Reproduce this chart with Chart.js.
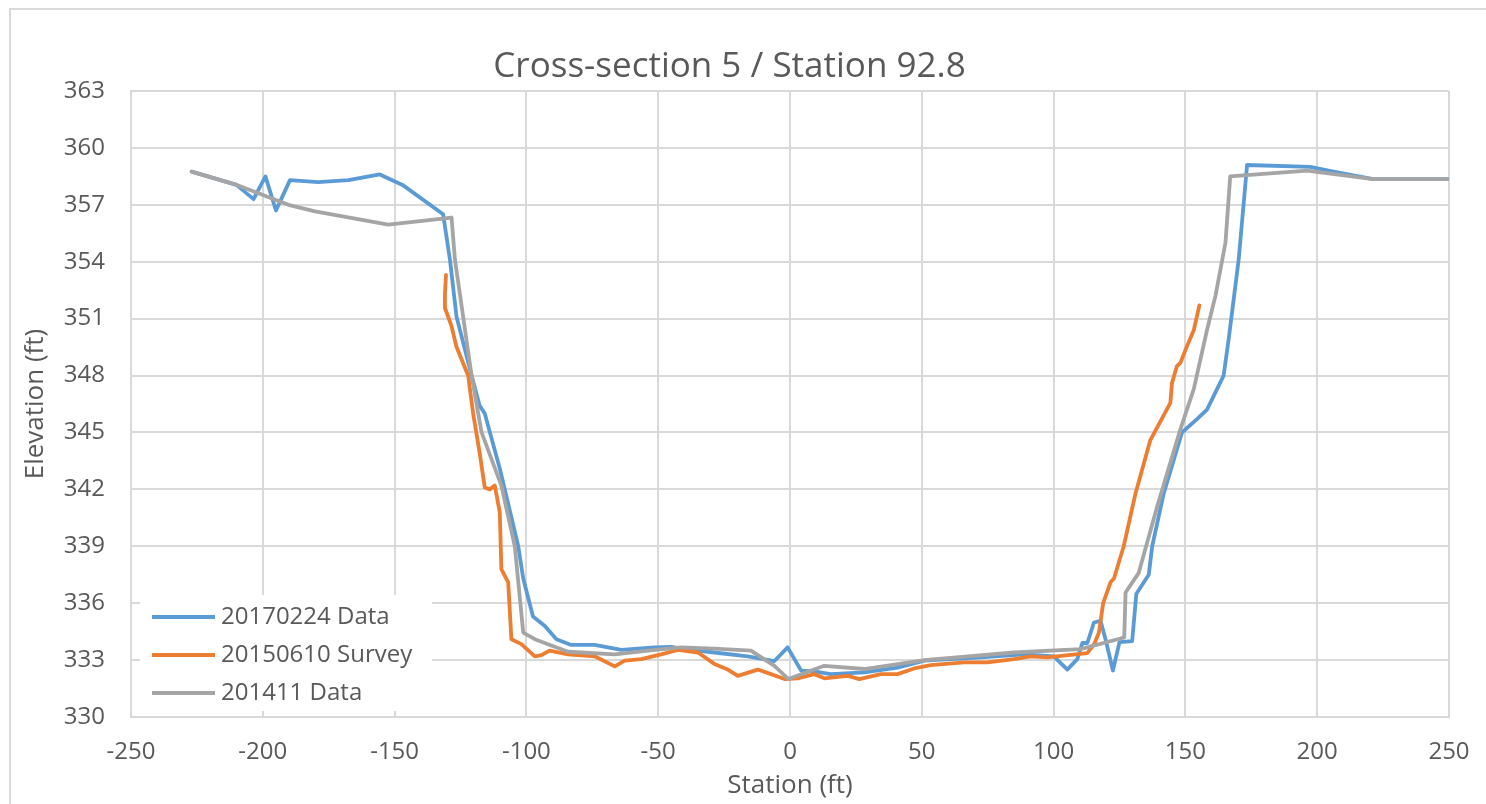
<!DOCTYPE html>
<html>
<head>
<meta charset="utf-8">
<script src="https://cdn.jsdelivr.net/npm/chart.js@4/dist/chart.umd.min.js"></script>
<style>
  html, body { margin: 0; padding: 0; background: #fff; }
  #wrap { position: absolute; left: 0; top: 0; width: 1486px; height: 804px; }
</style>
</head>
<body>
<div id="wrap"><canvas id="chart" width="1486" height="804"></canvas></div>
<script>
// ---- data (station ft, elevation ft) ----
const seriesNames = ["20170224 Data", "20150610 Survey", "201411 Data"];
const seriesColors = ["#5B9BD5", "#ED7D31", "#A5A5A5"];

const xTicks = [-250, -200, -150, -100, -50, 0, 50, 100, 150, 200, 250];
const yTicks = [330, 333, 336, 339, 342, 345, 348, 351, 354, 357, 360, 363];

const data2017X = [-227, -210, -203.5, -199, -195, -189.7, -179, -167.5, -155.6, -147, -131.6, -129, -126.5,
  -120.8, -117.7, -115.8, -110, -103.1, -101.2, -97.5, -93, -88.6, -83, -74.1, -64, -51.4, -45, -41.3, -28.7,
  -16, -5.9, -0.9, 4.2, 9, 15.5, 28.2, 40.8, 51, 72.3, 88.8, 100.1, 105.2, 109, 110.9, 112.8, 115.3, 117.8,
  119.7, 122.5, 125, 129.8, 131.4, 136.1, 137.4, 141.8, 148.7, 154.4, 158.2, 164.5, 166.4, 168.3, 170.2, 173.4,
  197.3, 206.2, 221.3, 250];
const data2017Y = [358.75, 358.05, 357.3, 358.5, 356.7, 358.3, 358.2, 358.3, 358.6, 358.05, 356.5, 354.1, 351.1,
  348.0, 346.4, 346.0, 343.05, 339.0, 337.3, 335.3, 334.8, 334.1, 333.8, 333.8, 333.54, 333.67, 333.7, 333.6, 333.4,
  333.2, 332.95, 333.67, 332.45, 332.4, 332.26, 332.35, 332.6, 332.97, 333.14, 333.3, 333.2, 332.5, 333.05, 333.9,
  333.9, 334.98, 335.07, 334.1, 332.45, 333.95, 334.0, 336.5, 337.5, 339.0, 341.8, 345.0, 345.7, 346.2, 348.0,
  349.9, 352.0, 354.1, 359.1, 359.0, 358.75, 358.35, 358.35];

const data2015X = [-130.5, -130.9, -130.9, -128.4, -126.5, -122.1, -120.2, -117.7, -115.8, -113.9, -112, -110.1,
  -109.5, -106.9, -105.7, -101.9, -96.8, -94.3, -91.2, -84.2, -74.1, -66.5, -62.7, -56.4, -48.9, -42.5, -34.9,
  -28.7, -23.6, -19.8, -12.2, -7.2, -2.1, 2.9, 9.2, 13, 21.9, 26.3, 34.5, 40.8, 47.1, 53.4, 66, 74.9, 85, 91.3,
  97.6, 112.8, 115.6, 117.2, 118.8, 121.6, 122.9, 126.6, 131.1, 136.7, 144.3, 144.9, 146.8, 148.1, 150.6, 153.2,
  155.3];
const data2015Y = [353.3, 352.3, 351.56, 350.6, 349.5, 348.0, 346.0, 343.9, 342.1, 342.0, 342.2, 340.8,
  337.8, 337.1, 334.1, 333.84, 333.2, 333.26, 333.5, 333.3, 333.2, 332.67, 332.97, 333.05, 333.3, 333.54, 333.4,
  332.8, 332.5, 332.17, 332.5, 332.26, 332.0, 332.04, 332.26, 332.04, 332.17, 332.0, 332.26, 332.26, 332.56, 332.74,
  332.88, 332.88, 333.05, 333.2, 333.14, 333.37, 333.9, 334.45, 336.0, 337.1, 337.3, 339.0, 341.8, 344.6, 346.56,
  347.6, 348.5, 348.67, 349.55, 350.4, 351.7];

const data2014X = [-227, -209.8, -190.3, -180.2, -152.4, -128.4, -127.1, -120.8, -117, -109.5, -104.4, -101.2,
  -96.8, -91.8, -84.2, -66.5, -53.9, -41.3, -28.7, -14.8, -5.9, -0.6, 13, 28.2, 51, 85, 110.2, 125.4, 126.8,
  127.3, 132.3, 139.3, 148.1, 153.2, 158.2, 161.4, 165.2, 167, 196.1, 221.3, 250];
const data2014Y = [358.75, 358.05, 357.0, 356.65, 355.95, 356.33, 354.1, 348.0, 345.0, 342.2, 339.0, 334.45,
  334.1, 333.84, 333.44, 333.3, 333.5, 333.67, 333.6, 333.5, 332.7, 332.0, 332.7, 332.53, 333.0, 333.4, 333.58,
  334.14, 334.2, 336.56, 337.6, 341.1, 345.16, 347.3, 350.4, 352.2, 355.0, 358.5, 358.8, 358.35, 358.35];

const TEXT = "#595959";
const GRID = "#D9D9D9";
const FONT = "'Open Sans', 'Liberation Sans', sans-serif";

function toPoints(xs, ys) {
  return xs.map((x, i) => ({ x, y: ys[i] }));
}

function lineDataset(i, xs, ys, order) {
  return {
    label: seriesNames[i],
    data: toPoints(xs, ys),
    borderColor: seriesColors[i],
    backgroundColor: seriesColors[i],
    borderWidth: 3.8,
    pointRadius: 0,
    tension: 0,
    borderJoinStyle: "round",
    borderCapStyle: "round",
    order,
  };
}

// legend box in the lower left of the plot, plus the outer frame
const frameAndLegend = {
  id: "frameAndLegend",
  beforeDraw(chart) {
    const ctx = chart.ctx;
    ctx.save();
    ctx.strokeStyle = GRID;
    ctx.lineWidth = 2;
    ctx.strokeRect(10, 9, 1600, 900);
    ctx.restore();
  },
  afterDatasetsDraw(chart) {
    const ctx = chart.ctx;
    const a = chart.chartArea;
    const bx = a.left + 9, by = a.bottom - 122;
    ctx.save();
    ctx.fillStyle = "#fff";
    ctx.fillRect(bx, by, 292, 116);
    ctx.font = "24px " + FONT;
    ctx.textBaseline = "middle";
    ctx.textAlign = "left";
    seriesNames.forEach((name, i) => {
      const y = by + 22 + i * 38;
      ctx.strokeStyle = seriesColors[i];
      ctx.lineWidth = 4;
      ctx.beginPath();
      ctx.moveTo(bx + 12, y);
      ctx.lineTo(bx + 75, y);
      ctx.stroke();
      ctx.fillStyle = TEXT;
      ctx.fillText(name, bx + 81, y);
    });
    ctx.restore();
  },
};

new Chart(document.getElementById("chart"), {
  type: "line",
  data: {
    datasets: [
      lineDataset(0, data2017X, data2017Y, 2),
      lineDataset(1, data2015X, data2015Y, 1),
      lineDataset(2, data2014X, data2014Y, 0),
    ],
  },
  options: {
    responsive: false,
    animation: false,
    layout: { padding: { left: 10, right: 37, top: 0, bottom: 0 } },
    plugins: {
      legend: { display: false },
      tooltip: { enabled: false },
      title: {
        display: true,
        text: "Cross-section 5 / Station 92.8",
        color: TEXT,
        font: { family: FONT, size: 35, weight: "normal" },
        padding: { top: 46, bottom: 3 },
      },
    },
    scales: {
      x: {
        type: "linear",
        min: -250,
        max: 250,
        afterBuildTicks: (s) => { s.ticks = xTicks.map((v) => ({ value: v })); },
        afterFit: (s) => {
          s.height = 87;
          s.paddingLeft = 0;
          s.paddingRight = 0;
        },
        grid: { color: GRID, lineWidth: 2, drawTicks: false },
        border: { color: GRID, width: 2 },
        ticks: { color: TEXT, font: { family: FONT, size: 24 }, padding: 21, maxRotation: 0 },
        title: {
          display: true,
          text: "Station (ft)",
          color: TEXT,
          font: { family: FONT, size: 26 },
          padding: { top: 0, bottom: 3 },
        },
      },
      y: {
        min: 330,
        max: 363,
        afterBuildTicks: (s) => { s.ticks = yTicks.map((v) => ({ value: v })); },
        afterFit: (s) => { s.width = 121; },
        grid: { color: GRID, lineWidth: 2, drawTicks: false },
        border: { color: GRID, width: 2 },
        ticks: { color: TEXT, font: { family: FONT, size: 24 }, padding: 26 },
        title: {
          display: true,
          text: "Elevation (ft)",
          color: TEXT,
          font: { family: FONT, size: 26 },
          padding: { top: 10, bottom: 0 },
        },
      },
    },
  },
  plugins: [frameAndLegend],
});
</script>
</body>
</html>
